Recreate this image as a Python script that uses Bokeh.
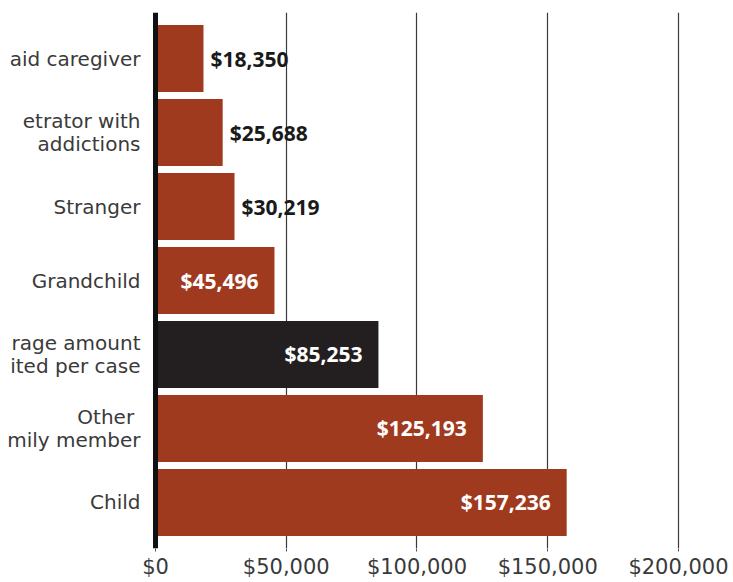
from bokeh.plotting import figure
from bokeh.models import ColumnDataSource, FactorRange, Span, FixedTicker, Range1d
from bokeh.core.properties import value
from bokeh.embed import file_html
from bokeh.resources import INLINE

# ---- data (top to bottom, as the cropped chart shows it) ----
categories = [
    "aid caregiver",
    "etrator with\naddictions",
    "Stranger",
    "Grandchild",
    "rage amount\nited per case",
    "Other \nmily member",
    "Child",
]
amounts = [18350, 25688, 30219, 45496, 85253, 125193, 157236]
is_average = [False, False, False, False, True, False, False]
tick_values = [0, 50000, 100000, 150000, 200000]
tick_labels = ["$0", "$50,000", "$100,000", "$150,000", "$200,000"]

RUST = "#a03a1f"
DARK = "#231f20"
INSIDE_MIN = 40000

factors = list(reversed(categories))  # bottom-to-top for the y range

src = ColumnDataSource(dict(
    cat=categories,
    amt=amounts,
    color=[DARK if a else RUST for a in is_average],
))
inside = ColumnDataSource(dict(
    cat=[c for c, v in zip(categories, amounts) if v >= INSIDE_MIN],
    amt=[v for v in amounts if v >= INSIDE_MIN],
    label=["${:,}".format(v) for v in amounts if v >= INSIDE_MIN],
))
outside = ColumnDataSource(dict(
    cat=[c for c, v in zip(categories, amounts) if v < INSIDE_MIN],
    amt=[v for v in amounts if v < INSIDE_MIN],
    label=["${:,}".format(v) for v in amounts if v < INSIDE_MIN],
))
labels_src = ColumnDataSource(dict(
    cat=categories,
    x=[0] * len(categories),
))

W, H = 733, 582
p = figure(
    width=W, height=H,
    output_backend="svg", toolbar_location=None,
    x_range=Range1d(-59273, 221033),
    y_range=FactorRange(factors=factors, range_padding=0.035),
    y_axis_location=None,
    min_border_left=0, min_border_right=0,
    min_border_top=12, min_border_bottom=34,
)
p.outline_line_color = None
p.background_fill_color = "white"
p.border_fill_color = "white"
p.ygrid.grid_line_color = None

# x axis / grid
p.xaxis.ticker = FixedTicker(ticks=tick_values)
p.xaxis.major_label_overrides = {v: l for v, l in zip(tick_values, tick_labels)}
p.xaxis.axis_line_color = None
p.xaxis.minor_tick_line_color = None
p.xaxis.major_tick_in = 0
p.xaxis.major_tick_out = 3
p.xaxis.major_tick_line_color = "#555555"
p.xaxis.major_label_standoff = 3
p.xaxis.major_label_text_font = "DejaVu Sans"
p.xaxis.major_label_text_font_size = "21px"
p.xaxis.major_label_text_color = "#3a3a3a"
p.xgrid.ticker = FixedTicker(ticks=tick_values[1:])
p.xgrid.grid_line_color = "#3a3a3a"
p.xgrid.grid_line_width = 1.2
p.xgrid.grid_line_alpha = 1.0

# bars
p.hbar(y="cat", left=0, right="amt", height=0.905, source=src,
       fill_color="color", line_color=None)

# zero line
p.add_layout(Span(location=0, dimension="height", line_color="#111111", line_width=5))

# value labels
p.text(x="amt", y="cat", text="label", source=inside,
       text_font=value("Open Sans"), text_font_style="bold",
       text_font_size="21px", text_color="white",
       text_align="right", text_baseline="middle", x_offset=-16)
p.text(x="amt", y="cat", text="label", source=outside,
       text_font=value("Open Sans"), text_font_style="bold",
       text_font_size="21px", text_color="#1a1a1a",
       text_align="left", text_baseline="middle", x_offset=7)

# category labels
p.text(x="x", y="cat", text="cat", source=labels_src,
       text_font=value("DejaVu Sans"), text_font_size="20px",
       text_color="#3a3a3a", text_align="right", text_baseline="middle",
       text_line_height=0.98, x_offset=-15)

open("out.html", "w").write(file_html(p, INLINE))
